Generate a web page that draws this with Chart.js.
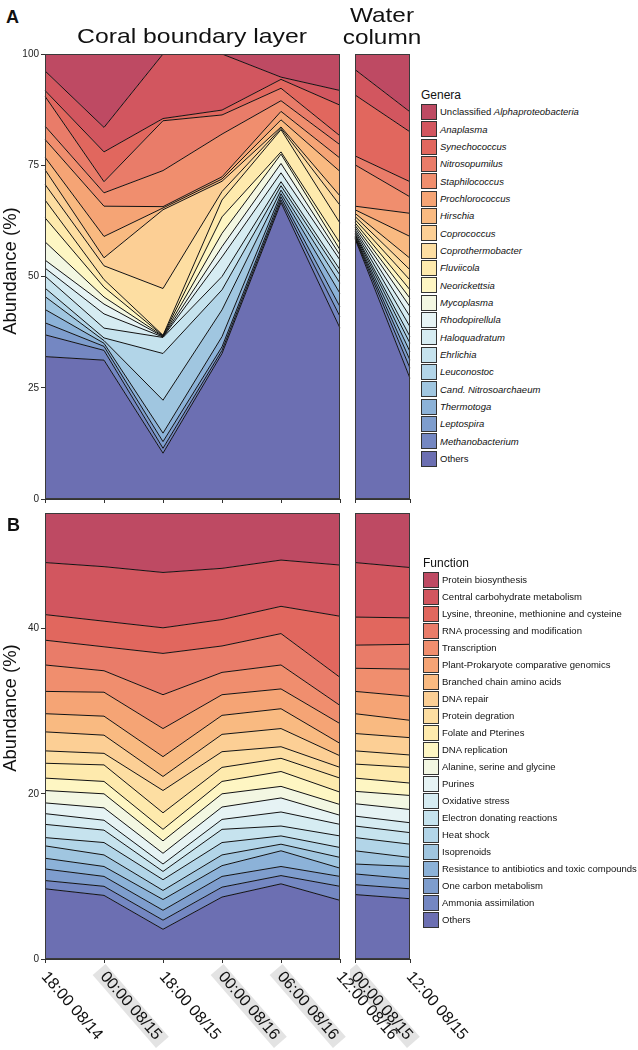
<!DOCTYPE html>
<html><head><meta charset="utf-8">
<script src="https://cdn.jsdelivr.net/npm/chart.js@4.4.1/dist/chart.umd.min.js"></script>
<style>
html,body{margin:0;padding:0;background:#fff;}
#wrap{position:relative;width:638px;height:1050px;overflow:hidden;font-family:"Liberation Sans",Arial,sans-serif;color:#111;}
canvas{position:absolute;}
.t{position:absolute;white-space:nowrap;line-height:1;}
.box{position:absolute;width:16px;height:16px;box-sizing:border-box;border:1px solid #333;}
</style></head><body><div id="wrap">
<canvas id="cA1" width="345" height="472" style="left:0;top:40px;"></canvas>
<canvas id="cA2" width="65" height="472" style="left:350px;top:40px;"></canvas>
<canvas id="cB2" width="130" height="550" style="left:350px;top:500px;"></canvas>
<canvas id="cB1" width="420" height="550" style="left:0;top:500px;"></canvas>
</div>
<script>
// ---------- data ----------
const coralTimes = ["18:00 08/14","00:00 08/15","18:00 08/15","00:00 08/16","06:00 08/16","12:00 08/16"];
const waterTimes = ["00:00 08/15","12:00 08/15"];
const coralNight = [false,true,false,true,true,false];
const waterNight = [true,false];

const generaNames = ["Unclassified Alphaproteobacteria","Anaplasma","Synechococcus","Nitrosopumilus","Staphilococcus","Prochlorococcus","Hirschia","Coprococcus","Coprothermobacter","Fluviicola","Neorickettsia","Mycoplasma","Rhodopirellula","Haloquadratum","Ehrlichia","Leuconostoc","Cand. Nitrosoarchaeum","Thermotoga","Leptospira","Methanobacterium","Others"];

const generaCoral = [
 [3.8, 16.5, 0, 0, 5.2, 8.2],
 [4.4, 5.5, 14.5, 12.6, 0.5, 3.3],
 [1.3, 6.7, 0.5, 1.1, 2.0, 6.9],
 [6.7, 2.5, 11.2, 4.3, 2.8, 2.0],
 [3.0, 3.0, 8.1, 9.6, 2.4, 3.0],
 [4.0, 6.8, 0.3, 0.5, 1.9, 3.0],
 [2.8, 4.8, 0.4, 0.5, 1.6, 5.5],
 [3.3, 1.8, 17.7, 2.3, 0.3, 2.1],
 [3.5, 3.1, 10.5, 1.9, 0.3, 4.0],
 [4.0, 1.7, 0.1, 3.8, 5.0, 4.5],
 [5.4, 2.2, 0.1, 3.7, 0.5, 1.5],
 [4.1, 1.6, 0.1, 3.0, 2.1, 1.2],
 [1.8, 2.2, 0.1, 2.3, 2.1, 1.1],
 [1.8, 3.2, 0.1, 4.4, 2.0, 2.2],
 [2.7, 2.2, 3.6, 3.0, 0.9, 1.2],
 [1.9, 0.6, 10.5, 4.5, 1.0, 1.8],
 [2.9, 0.6, 7.4, 6.0, 0.8, 2.3],
 [3.0, 0.7, 1.9, 2.3, 0.7, 3.0],
 [2.7, 0.9, 1.5, 0.8, 0.7, 2.2],
 [4.9, 2.2, 1.1, 0.7, 0.6, 2.6],
 [32.0, 31.2, 10.3, 32.7, 66.6, 38.4]
];
const generaWater = [
 [3.5, 13.0],[5.7, 4.5],[13.7, 11.2],[2.0, 3.4],[9.3, 3.7],[0.8, 5.2],[0.8, 4.9],
 [0.7, 2.6],[0.7, 2.3],[0.7, 2.2],[0.6, 1.9],[0.5, 1.9],[0.5, 2.2],[0.4, 2.3],
 [0.4, 2.2],[0.3, 1.5],[0.3, 1.9],[0.2, 1.9],[0.2, 1.8],[0.2, 2.3],[58.5, 27.1]
];

const functionNames = ["Protein biosynthesis","Central carbohydrate metabolism","Lysine, threonine, methionine and cysteine","RNA processing and modification","Transcription","Plant-Prokaryote comparative genomics","Branched chain amino acids","DNA repair","Protein degration","Folate and Pterines","DNA replication","Alanine, serine and glycine","Purines","Oxidative stress","Electron donating reactions","Heat shock","Isoprenoids","Resistance to antibiotics and toxic compounds","One carbon metabolism","Ammonia assimilation","Others"];

const functionCoral = [
 [6.0, 6.5, 7.2, 6.7, 5.7, 6.3],
 [6.3, 6.6, 6.7, 6.2, 5.6, 6.2],
 [3.1, 3.1, 3.1, 3.2, 3.3, 7.4],
 [3.0, 2.9, 5.0, 3.2, 3.8, 3.4],
 [3.2, 2.6, 4.1, 2.7, 2.9, 2.2],
 [2.7, 2.9, 3.4, 2.5, 2.4, 2.4],
 [2.2, 2.3, 2.4, 2.3, 2.4, 1.5],
 [2.3, 2.2, 1.7, 2.1, 2.2, 1.4],
 [1.5, 1.4, 2.7, 1.9, 1.4, 1.3],
 [1.8, 2.0, 2.0, 1.7, 1.6, 1.7],
 [1.5, 1.5, 1.4, 1.5, 1.8, 1.5],
 [1.5, 1.7, 1.5, 1.6, 1.4, 1.3],
 [1.3, 1.5, 1.3, 1.5, 1.7, 1.1],
 [1.3, 1.2, 0.9, 1.2, 1.7, 1.4],
 [1.6, 1.5, 1.0, 1.6, 1.2, 1.4],
 [1.0, 1.5, 1.3, 1.5, 1.0, 1.2],
 [1.5, 1.4, 1.1, 1.3, 0.8, 1.3],
 [1.3, 1.2, 1.3, 1.3, 1.9, 1.0],
 [1.4, 1.2, 1.2, 1.3, 1.1, 1.2],
 [1.0, 1.1, 1.1, 1.2, 1.0, 1.7],
 [8.5, 7.7, 3.6, 7.5, 9.1, 7.1]
];
const functionWater = [
 [6.0, 6.6],[6.6, 6.1],[3.4, 3.2],[2.8, 3.0],[2.8, 3.3],[2.7, 2.9],[2.4, 2.1],
 [2.1, 2.1],[1.6, 1.5],[1.7, 1.9],[1.6, 1.5],[1.5, 1.7],[1.5, 1.6],[1.2, 1.2],
 [1.4, 1.4],[1.6, 1.6],[1.6, 1.1],[1.2, 1.5],[1.3, 1.2],[1.2, 1.2],[7.8, 7.3]
];

const yTicksA = [0, 25, 50, 75, 100];
const yTicksB = [0, 20, 40];

const palette = ['#BE4A63','#D2565F','#E1675E','#E97C69','#F08E6E','#F5A475','#F9BA81','#FCCF95','#FDDEA2','#FEEAAD','#FEF6C3','#F3F7E2','#E6F3F4','#D6ECF2','#C6E3EE','#B2D5E8','#A0C6E0','#8CB2D8','#7E9DCD','#7487C2','#6C6FB2'];

// ---------- charts ----------
const FONT = '"Liberation Sans", Arial, sans-serif';
Chart.defaults.font.family = FONT;

const framePlugin = {
  id: 'frame',
  afterDatasetsDraw(chart) {
    const a = chart.chartArea, ctx = chart.ctx;
    ctx.save();
    ctx.strokeStyle = '#3a3a3a'; ctx.lineWidth = 1;
    ctx.strokeRect(a.left + 0.5, a.top + 0.5, a.right - a.left - 1, a.bottom - a.top - 1);
    ctx.restore();
  }
};
const xLabelPlugin = {
  id: 'xlab',
  afterDraw(chart, args, opts) {
    if (!opts || !opts.labels) return;
    const ctx = chart.ctx, xs = chart.scales.x, bottom = chart.chartArea.bottom;
    ctx.save();
    ctx.font = '16px ' + FONT;
    ctx.textBaseline = 'middle'; ctx.textAlign = 'left';
    opts.labels.forEach((lab, i) => {
      const px = xs.getPixelForValue(i);
      ctx.save();
      ctx.translate(px - 1, bottom + 15);
      ctx.rotate(49 * Math.PI / 180);
      const w = ctx.measureText(lab).width;
      if (opts.night[i]) { ctx.fillStyle = '#e3e3e3'; ctx.fillRect(-6, -8.5, w + 12, 17); }
      ctx.fillStyle = '#111';
      ctx.fillText(lab, 0, 0);
      ctx.restore();
    });
    ctx.restore();
  }
};

function makeChart(id, labels, values, yMax, yTicks, showY, xH, pad, xlab) {
  const datasets = [];
  for (let i = values.length - 1; i >= 0; i--) {
    datasets.push({
      data: values[i],
      backgroundColor: palette[i],
      borderColor: '#121212',
      borderWidth: 1,
      pointRadius: 0,
      tension: 0,
      fill: datasets.length === 0 ? 'origin' : '-1'
    });
  }
  return new Chart(document.getElementById(id), {
    type: 'line',
    data: { labels: labels, datasets: datasets },
    options: {
      responsive: false, animation: false, devicePixelRatio: 1,
      layout: { padding: pad },
      plugins: { legend: { display: false }, tooltip: { enabled: false },
        filler: { drawTime: 'beforeDatasetsDraw', propagate: false },
        xlab: xlab || {} },
      scales: {
        x: {
          type: 'category', offset: false,
          grid: { display: true, drawOnChartArea: false, drawTicks: true, tickLength: 4, color: '#333' },
          border: { display: true, color: '#333' },
          ticks: { display: false },
          afterFit: s => { s.height = xH; }
        },
        y: {
          stacked: true, min: 0, max: yMax, display: showY,
          afterBuildTicks: s => { s.ticks = yTicks.map(v => ({ value: v })); },
          grid: { display: true, drawOnChartArea: false, drawTicks: true, tickLength: 4, color: '#333' },
          border: { display: true, color: '#333' },
          ticks: { font: { size: 10 }, color: '#222', padding: 2 },
          afterFit: s => { s.width = showY ? 45 : 0; }
        }
      }
    },
    plugins: [framePlugin, xLabelPlugin]
  });
}

makeChart('cA1', coralTimes, generaCoral, 100, yTicksA, true, 13, { top: 14, right: 5, left: 0, bottom: 0 });
makeChart('cA2', waterTimes, generaWater, 100, yTicksA, false, 13, { top: 14, right: 5, left: 5, bottom: 0 });
makeChart('cB2', waterTimes, functionWater, 54, yTicksB, false, 91, { top: 13, right: 70, left: 5, bottom: 0 }, { labels: waterTimes, night: waterNight });
makeChart('cB1', coralTimes, functionCoral, 54, yTicksB, true, 91, { top: 13, right: 80, left: 0, bottom: 0 }, { labels: coralTimes, night: coralNight });

// ---------- text ----------
const wrap = document.getElementById('wrap');
function addText(html, x, baseline, size, o) {
  o = o || {};
  const d = document.createElement('div');
  d.className = 't';
  d.innerHTML = html;
  d.style.fontSize = size + 'px';
  d.style.top = (baseline - 0.8465 * size) + 'px';
  d.style.left = x + 'px';
  if (o.bold) d.style.fontWeight = 'bold';
  let tr = '';
  if (o.center) tr += 'translateX(-50%) ';
  if (o.sx) tr += 'scaleX(' + o.sx + ')';
  if (tr) d.style.transform = tr;
  if (o.color) d.style.color = o.color;
  wrap.appendChild(d);
  return d;
}
addText('A', 6, 23.3, 18, { bold: true });
addText('B', 7, 531.7, 18, { bold: true });
addText('Coral boundary layer', 192, 43, 21, { center: true, sx: 1.18 });
addText('Water', 382, 21.5, 21, { center: true, sx: 1.16 });
addText('column', 382, 44, 21, { center: true, sx: 1.16 });

function addYTitle(cx, cy) {
  const d = document.createElement('div');
  d.className = 't';
  d.textContent = 'Abundance (%)';
  d.style.fontSize = '18.5px';
  d.style.left = cx + 'px'; d.style.top = cy + 'px';
  d.style.transform = 'translate(-50%,-50%) rotate(-90deg)';
  wrap.appendChild(d);
}
addYTitle(10, 271);
addYTitle(10, 708);

function genusHtml(n) {
  if (n === 'Others') return n;
  if (n.startsWith('Unclassified ')) return 'Unclassified <i>' + n.slice(13) + '</i>';
  return '<i>' + n + '</i>';
}
function addLegend(title, names, boxLeft, titleBaseline, firstTop, step, fmt) {
  addText(title, boxLeft, titleBaseline, 12);
  names.forEach((n, i) => {
    const top = firstTop + i * step;
    const b = document.createElement('div');
    b.className = 'box';
    b.style.left = boxLeft + 'px'; b.style.top = top + 'px';
    b.style.background = palette[i];
    wrap.appendChild(b);
    addText(fmt ? fmt(n) : n, boxLeft + 19, top + 11.5, 9.5);
  });
}
addLegend('Genera', generaNames, 421, 99, 104, 17.33, genusHtml);
addLegend('Function', functionNames, 423, 567, 571.7, 17, null);
</script>
</body></html>
